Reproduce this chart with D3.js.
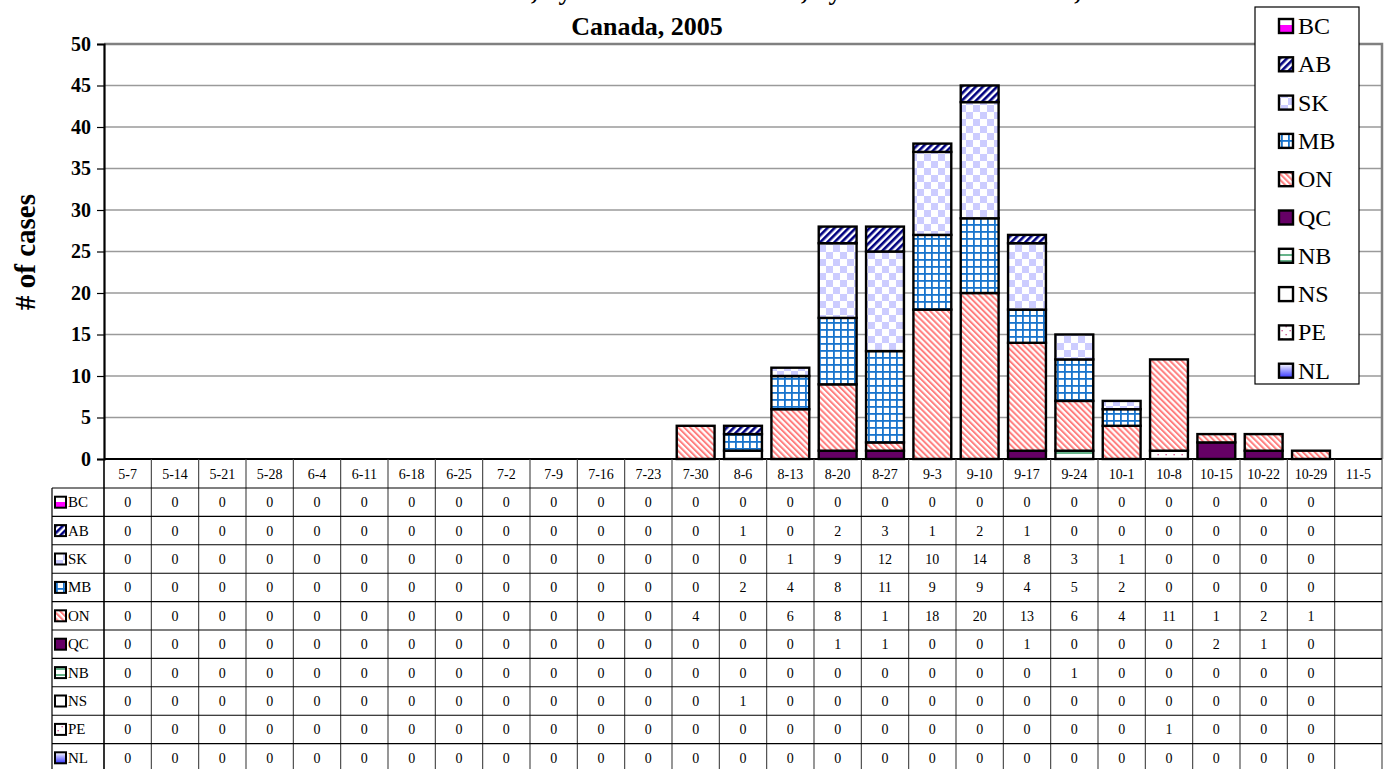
<!DOCTYPE html>
<html><head><meta charset="utf-8">
<script src="https://cdn.jsdelivr.net/npm/d3@7"></script>
<style>
body{margin:0;background:#fff}
svg{display:block}
svg text{font-family:"Liberation Serif","Times New Roman",Times,serif !important;fill:#000}
</style>
</head><body>
<svg id="c" width="1389" height="769" font-family="Liberation Serif, Times New Roman, serif"></svg>
<script>
// ---------- DATA ----------
const weeks = ["5-7","5-14","5-21","5-28","6-4","6-11","6-18","6-25","7-2","7-9","7-16","7-23","7-30","8-6","8-13","8-20","8-27","9-3","9-10","9-17","9-24","10-1","10-8","10-15","10-22","10-29","11-5"];
const provinces = ["BC","AB","SK","MB","ON","QC","NB","NS","PE","NL"];
const BC = [0,0,0,0,0,0,0,0,0,0,0,0, 0,0,0,0,0,0,0,0,0,0,0,0,0,0,null];
const AB = [0,0,0,0,0,0,0,0,0,0,0,0, 0,1,0,2,3,1,2,1,0,0,0,0,0,0,null];
const SK = [0,0,0,0,0,0,0,0,0,0,0,0, 0,0,1,9,12,10,14,8,3,1,0,0,0,0,null];
const MB = [0,0,0,0,0,0,0,0,0,0,0,0, 0,2,4,8,11,9,9,4,5,2,0,0,0,0,null];
const ON = [0,0,0,0,0,0,0,0,0,0,0,0, 4,0,6,8,1,18,20,13,6,4,11,1,2,1,null];
const QC = [0,0,0,0,0,0,0,0,0,0,0,0, 0,0,0,1,1,0,0,1,0,0,0,2,1,0,null];
const NB = [0,0,0,0,0,0,0,0,0,0,0,0, 0,0,0,0,0,0,0,0,1,0,0,0,0,0,null];
const NS = [0,0,0,0,0,0,0,0,0,0,0,0, 0,1,0,0,0,0,0,0,0,0,0,0,0,0,null];
const PE = [0,0,0,0,0,0,0,0,0,0,0,0, 0,0,0,0,0,0,0,0,0,0,1,0,0,0,null];
const NL = [0,0,0,0,0,0,0,0,0,0,0,0, 0,0,0,0,0,0,0,0,0,0,0,0,0,0,null];
const yTicks = [0,5,10,15,20,25,30,35,40,45,50];
const titleLine1 = "West Nile virus clinical cases, by week of illness onset, by location of residence,";
const titleLine2 = "Canada, 2005";
const yTitle = "# of cases";
const seriesValues = {BC,AB,SK,MB,ON,QC,NB,NS,PE,NL};

// ---------- LAYOUT ----------
const FONT = '"Liberation Serif","Times New Roman",serif';
const svg = d3.select("#c");
const L = 104, R = 1382, T = 44, B = 459;
const headerH = 29, rowH = 28.4, tableLeft = 52;

const x = d3.scaleBand().domain(weeks).range([L, R]).padding(0);
const y = d3.scaleLinear().domain([0, 50]).range([B, T]);

// ---------- PATTERNS ----------
const defs = svg.append("defs");
function stripes(id, color, bg, w, sw, rot){
  const p = defs.append("pattern").attr("id", id).attr("patternUnits","userSpaceOnUse")
    .attr("width", w).attr("height", w).attr("patternTransform", `rotate(${rot})`);
  p.append("rect").attr("width", w).attr("height", w).attr("fill", bg);
  p.append("rect").attr("width", sw).attr("height", w).attr("fill", color);
}
stripes("pAB", "#000080", "#fff", 5, 2.6, 45);
stripes("pON", "#FF7F7F", "#fff", 4.2, 2, -45);
{
  const p = defs.append("pattern").attr("id","pSK").attr("patternUnits","userSpaceOnUse").attr("width",14).attr("height",14);
  p.append("rect").attr("width",14).attr("height",14).attr("fill","#fff");
  p.append("rect").attr("width",7).attr("height",7).attr("fill","#CCCCFF");
  p.append("rect").attr("x",7).attr("y",7).attr("width",7).attr("height",7).attr("fill","#CCCCFF");
}
{
  const p = defs.append("pattern").attr("id","pMB").attr("patternUnits","userSpaceOnUse").attr("width",7).attr("height",7);
  p.append("rect").attr("width",7).attr("height",7).attr("fill","#fff");
  p.append("rect").attr("width",1.8).attr("height",7).attr("fill","#1874CD");
  p.append("rect").attr("width",7).attr("height",1.8).attr("fill","#1874CD");
}
{
  const p = defs.append("pattern").attr("id","pNB").attr("patternUnits","userSpaceOnUse").attr("width",6).attr("height",6);
  p.append("rect").attr("width",6).attr("height",6).attr("fill","#fff");
  p.append("rect").attr("y",2).attr("width",6).attr("height",2).attr("fill","#66B38A");
}
{
  const p = defs.append("pattern").attr("id","pPE").attr("patternUnits","userSpaceOnUse").attr("width",8).attr("height",8);
  p.append("rect").attr("width",8).attr("height",8).attr("fill","#fff");
  p.append("rect").attr("x",1.5).attr("y",2).attr("width",1.3).attr("height",1.3).attr("fill","#CC4488");
  p.append("rect").attr("x",5.5).attr("y",6).attr("width",1.3).attr("height",1.3).attr("fill","#CC4488");
}
{
  const g = defs.append("linearGradient").attr("id","gNL").attr("x1",0).attr("y1",0).attr("x2",0).attr("y2",1);
  g.append("stop").attr("offset","0%").attr("stop-color","#FFFFFF");
  g.append("stop").attr("offset","100%").attr("stop-color","#3333FF");
}
{
  const g = defs.append("linearGradient").attr("id","gBC").attr("x1",0).attr("y1",0).attr("x2",0).attr("y2",1);
  g.append("stop").attr("offset","0%").attr("stop-color","#fff");
  g.append("stop").attr("offset","45%").attr("stop-color","#fff");
  g.append("stop").attr("offset","45%").attr("stop-color","#FF00FF");
  g.append("stop").attr("offset","100%").attr("stop-color","#FF00FF");
}
const fills = {BC:"url(#gBC)", AB:"url(#pAB)", SK:"url(#pSK)", MB:"url(#pMB)", ON:"url(#pON)",
  QC:"#660066", NB:"url(#pNB)", NS:"#FFFFFF", PE:"url(#pPE)", NL:"url(#gNL)"};

// ---------- TITLE ----------
svg.append("text").attr("x", 647).attr("y", -0.5).attr("text-anchor","middle")
  .attr("font-family", FONT).attr("font-size", 26).attr("font-weight","bold")
  .text(titleLine1);
svg.append("text").attr("x", 647).attr("y", 35).attr("text-anchor","middle")
  .attr("font-family", FONT).attr("font-size", 26).attr("font-weight","bold").text(titleLine2);

// ---------- GRID ----------
svg.append("g").selectAll("line").data(yTicks.filter(d => d > 0 && d < 50)).join("line")
  .attr("x1", L).attr("x2", R).attr("y1", d => y(d)).attr("y2", d => y(d))
  .attr("stroke", "#9a9a9a").attr("stroke-width", 1.3);
svg.append("path").attr("d", `M${L},${y(50)}H${R}V${B}`).attr("fill","none")
  .attr("stroke","#808080").attr("stroke-width",2.5);

// ---------- BARS ----------
const stackKeys = provinces.slice().reverse(); // NL bottom ... BC top
const rows = weeks.map((w, i) => {
  const o = {week: w};
  provinces.forEach(p => o[p] = seriesValues[p][i] || 0);
  return o;
});
const stacked = d3.stack().keys(stackKeys)(rows);
const bw = x.bandwidth(), barW = bw * 0.8, off = bw * 0.1;
svg.append("g").selectAll("g").data(stacked).join("g")
  .attr("fill", s => fills[s.key])
  .selectAll("rect").data(s => s.filter(d => d[1] - d[0] > 0)).join("rect")
  .attr("x", d => x(d.data.week) + off)
  .attr("width", barW)
  .attr("y", d => y(d[1]))
  .attr("height", d => y(d[0]) - y(d[1]))
  .attr("stroke", "#000").attr("stroke-width", 2.4);

// ---------- Y AXIS ----------
const yAxis = svg.append("g").attr("transform", `translate(${L},0)`)
  .call(d3.axisLeft(y).tickValues(yTicks).tickSize(7).tickPadding(6));
yAxis.attr("font-family", FONT);
yAxis.select(".domain").attr("stroke","#000").attr("stroke-width",2.2);
yAxis.selectAll(".tick line").attr("stroke","#000").attr("stroke-width",1.2);
yAxis.selectAll(".tick text").attr("font-family", FONT)
  .attr("font-size", 20).attr("font-weight","bold").attr("fill","#000");
svg.append("line").attr("x1", L).attr("x2", R).attr("y1", B).attr("y2", B)
  .attr("stroke","#000").attr("stroke-width",2.2);

svg.append("text").attr("transform", `translate(35,252) rotate(-90)`)
  .attr("text-anchor","middle").attr("font-family", FONT).attr("font-size", 29).attr("font-weight","bold")
  .text(yTitle);

// ---------- DATA TABLE ----------
const tb = svg.append("g").attr("font-family", FONT);
const rowTop = i => B + headerH + i * rowH;
const tableBottom = rowTop(provinces.length);
tb.selectAll("line.v").data(weeks.concat(["_end"])).join("line").attr("class","v")
  .attr("x1", (d,i) => L + i * bw).attr("x2", (d,i) => L + i * bw)
  .attr("y1", B).attr("y2", tableBottom)
  .attr("stroke", (d,i) => (i === 0 ? "#000" : "#404040")).attr("stroke-width", (d,i) => (i === 0 ? 1.6 : 1.1));
tb.append("line").attr("x1", tableLeft).attr("x2", tableLeft).attr("y1", rowTop(0)).attr("y2", tableBottom)
  .attr("stroke","#000").attr("stroke-width",1.2);
tb.selectAll("line.h").data(d3.range(provinces.length + 1)).join("line").attr("class","h")
  .attr("x1", tableLeft).attr("x2", R).attr("y1", i => rowTop(i)).attr("y2", i => rowTop(i))
  .attr("stroke","#000").attr("stroke-width",1.1);
tb.selectAll("text.wk").data(weeks).join("text").attr("class","wk")
  .attr("x", d => x(d) + bw / 2).attr("y", B + headerH / 2 + 5)
  .attr("text-anchor","middle").attr("font-family", FONT).attr("font-size", 14).text(d => d);
provinces.forEach((p, i) => {
  const cy = rowTop(i) + rowH / 2;
  tb.append("rect").attr("x", 55).attr("y", cy - 5.5).attr("width", 11).attr("height", 11)
    .attr("fill", fills[p]).attr("stroke","#000").attr("stroke-width",2);
  tb.append("text").attr("x", 68).attr("y", cy + 5).attr("font-family", FONT).attr("font-size", 15).text(p);
  tb.selectAll(null).data(weeks.map((w, j) => ({w, v: seriesValues[p][j]})).filter(d => d.v !== null))
    .join("text").attr("x", d => x(d.w) + bw / 2).attr("y", cy + 5)
    .attr("text-anchor","middle").attr("font-family", FONT).attr("font-size", 14).text(d => d.v);
});

// ---------- LEGEND ----------
const lg = svg.append("g").attr("font-family", FONT);
lg.append("rect").attr("x", 1255).attr("y", 7).attr("width", 104).attr("height", 377)
  .attr("fill","#fff").attr("stroke","#000").attr("stroke-width",1.2);
provinces.forEach((p, i) => {
  const cy = 26 + i * 38.3;
  lg.append("rect").attr("x", 1279).attr("y", cy - 7).attr("width", 14).attr("height", 14)
    .attr("fill", fills[p]).attr("stroke","#000").attr("stroke-width",2.4);
  lg.append("text").attr("x", 1298).attr("y", cy + 8).attr("font-family", FONT).attr("font-size", 24).text(p);
});
</script>
</body></html>
